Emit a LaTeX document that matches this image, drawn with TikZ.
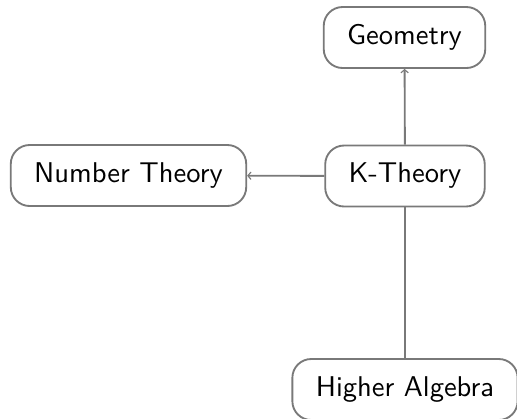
\documentclass[tikz,border=0pt]{standalone}
\usepackage{tikz}
\usetikzlibrary{arrows.meta}
\begin{document}
\begin{tikzpicture}[x=0.35pt,y=-0.35pt,
  topic/.style={draw=gray!95!black, line width=0.65pt, rounded corners=6.6pt,
    inner xsep=8.2pt, minimum height=21.35pt, font=\sffamily, text=black},
  link/.style={draw=gray!95!black, line width=0.65pt},
  tip/.style={-{Straight Barb[length=1.1pt,width=2.6pt,line width=0.4pt]}}]
\useasboundingbox (0,0) rectangle (517,418);
\clip (0,0) rectangle (517,418);
\node[topic] (geo) at (404.5,37.5) {Geometry};
\node[topic] (kt) at (405,176) {K-Theory};
\node[topic] (nt) at (128.5,175.5) {Number Theory};
\node[topic] (ha) at (405,389.5) {Higher Algebra};
\draw[link,tip] (kt) -- (geo);
\draw[link,tip] (kt) -- (nt);
\draw[link] (kt) -- (ha);
\end{tikzpicture}
\end{document}
